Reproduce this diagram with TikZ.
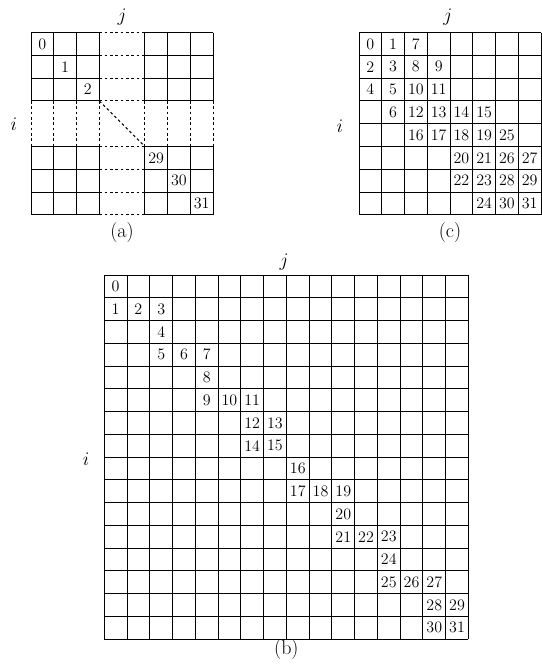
\documentclass[tikz,border=0pt]{standalone}
\usetikzlibrary{positioning}

\begin{document}
\begin{tikzpicture}[
  num/.style={font=\fontsize{12}{14}\selectfont,inner sep=0pt},
  lbl/.style={font=\fontsize{15}{18}\selectfont,inner sep=0pt},
  gap/.style={dash pattern=on 2pt off 2pt},
  line width=0.75pt
]
  \useasboundingbox (0,0) rectangle (406.5pt,-498pt);

  % (a) sparse diagonal
  \begin{scope}[shift={(23.25pt,-24.5pt)},scale=0.6,yscale=-1]
    \foreach \k in {0,1,2,3,5,6,7,8} {
      \draw (\k,0) -- (\k,3) (\k,5) -- (\k,8);
      \draw[gap] (\k,3) -- (\k,5);
      \draw (0,\k) -- (3,\k) (5,\k) -- (8,\k);
      \draw[gap] (3,\k) -- (5,\k);
    }
    \draw[gap] (3,3) -- (5,5);
    \foreach \col/\row/\n in {0/0/0,1/1/1,2/2/2,5/5/29,6/6/30,7/7/31}
      \node[num] (a\n) at (\col+0.5,\row+0.5) {\n};
    \node[lbl] (aj) at (4,-0.69) {$j$};
    \node[lbl] (ai) at (-0.75,4) {$i$};
    \node[lbl] (acap) at (4,8.8) {(a)};
  \end{scope}

  % (c) 8x8
  \begin{scope}[shift={(269.25pt,-24.5pt)},scale=0.6,yscale=-1]
    \foreach \k in {0,...,8} {
      \draw (\k,0) -- (\k,8);
      \draw (0,\k) -- (8,\k);
    }
    \foreach \col/\row/\n in {0/0/0,1/0/1,2/0/7,
        0/1/2,1/1/3,2/1/8,3/1/9,
        0/2/4,1/2/5,2/2/10,3/2/11,
        1/3/6,2/3/12,3/3/13,4/3/14,5/3/15,
        2/4/16,3/4/17,4/4/18,5/4/19,6/4/25,
        4/5/20,5/5/21,6/5/26,7/5/27,
        4/6/22,5/6/23,6/6/28,7/6/29,
        5/7/24,6/7/30,7/7/31}
      \node[num] (c\n) at (\col+0.5,\row+0.5) {\n};
    \node[lbl] (cj) at (3.9,-0.69) {$j$};
    \node[lbl] (ci) at (-0.84,4.1) {$i$};
    \node[lbl] (ccap) at (4,8.8) {(c)};
  \end{scope}

  % (b) 16x16
  \begin{scope}[shift={(78.2pt,-206.25pt)},scale=0.6,yscale=-1]
    \foreach \k in {0,...,16} {
      \draw (\k,0) -- (\k,16);
      \draw (0,\k) -- (16,\k);
    }
    \foreach \col/\row/\n in {0/0/0,
        0/1/1,1/1/2,2/1/3,2/2/4,2/3/5,3/3/6,4/3/7,
        4/4/8,4/5/9,5/5/10,6/5/11,6/6/12,7/6/13,6/7/14,7/7/15,
        8/8/16,8/9/17,9/9/18,10/9/19,10/10/20,10/11/21,11/11/22,12/11/23,
        12/12/24,12/13/25,13/13/26,14/13/27,14/14/28,15/14/29,14/15/30,15/15/31}
      \node[num] (b\n) at (\col+0.5,\row+0.5) {\n};
    \node[lbl] (bj) at (7.9,-0.55) {$j$};
    \node[lbl] (bi) at (-0.8,8.1) {$i$};
    \node[lbl] (bcap) at (8,16.45) {(b)};
  \end{scope}
\end{tikzpicture}
\end{document}
